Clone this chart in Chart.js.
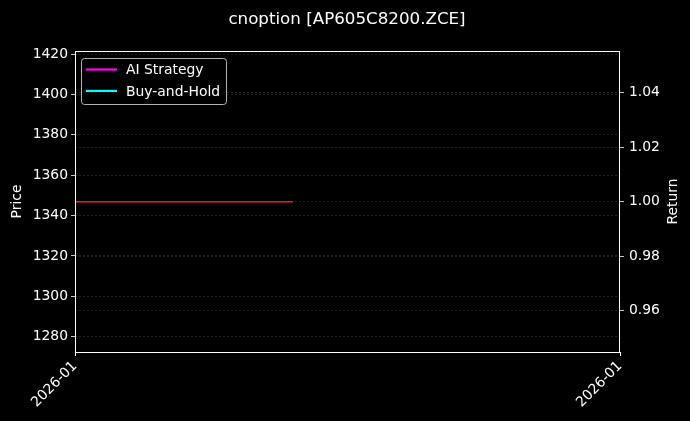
<!DOCTYPE html>
<html lang="en">
<head>
<meta charset="utf-8">
<script src="https://cdn.jsdelivr.net/npm/chart.js@4/dist/chart.umd.min.js"></script>
<style>
  html, body { margin: 0; padding: 0; background: #000; }
  #wrap { width: 690px; height: 421px; }
</style>
</head>
<body>
<div id="wrap"><canvas id="chart" width="690" height="421"></canvas></div>
<script>
// chart values
var titleText = 'cnoption [AP605C8200.ZCE]';
var xTickPos = [0, 1];
var xTickLabels = ['2026-01', '2026-01'];
var priceTicks = [1280, 1300, 1320, 1340, 1360, 1380, 1400, 1420];
var returnTicks = [0.96, 0.98, 1.00, 1.02, 1.04];
var aiStrategy = [];
var buyAndHold = [];
var refLineX = [0, 0.4];
var refLineY = [1.0, 1.0];

var FONT = 'DejaVu Sans';
var FS = 13.9;
var gridColor = 'rgba(100,100,100,0.45)';

function pts(xs, ys) {
  var out = [];
  for (var i = 0; i < xs.length; i++) out.push({x: xs[i], y: ys[i]});
  return out;
}

// title, axis titles, frame and in-plot legend
var decor = {
  id: 'decor',
  afterDraw: function(chart) {
    var ctx = chart.ctx, a = chart.chartArea;
    ctx.save();
    ctx.fillStyle = '#fff';
    ctx.font = '16.7px "' + FONT + '"';
    ctx.textAlign = 'center';
    ctx.textBaseline = 'alphabetic';
    ctx.fillText(titleText, 347, 24);

    ctx.font = FS + 'px "' + FONT + '"';
    ctx.textBaseline = 'middle';
    var cy = (a.top + a.bottom) / 2;
    ctx.save(); ctx.translate(17, cy); ctx.rotate(-Math.PI / 2); ctx.fillText('Price', 0, 0); ctx.restore();
    ctx.save(); ctx.translate(673, cy); ctx.rotate(-Math.PI / 2); ctx.fillText('Return', 0, 0); ctx.restore();

    // frame
    ctx.strokeStyle = '#fff';
    ctx.lineWidth = 1;
    ctx.strokeRect(Math.round(a.left) + 0.5, Math.round(a.top) + 0.5, Math.round(a.right - a.left) - 1, Math.round(a.bottom - a.top));

    // legend
    var items = chart.data.datasets.filter(function(d) { return d.inLegend; });
    var bx = 81, by = 58, bw = 145, bh = 46;
    ctx.fillStyle = 'rgba(0,0,0,0.8)';
    ctx.strokeStyle = 'rgba(210,210,210,0.85)';
    ctx.lineWidth = 1;
    ctx.beginPath();
    ctx.roundRect(bx + 0.5, by + 0.5, bw, bh, 3);
    ctx.fill(); ctx.stroke();
    ctx.textAlign = 'left';
    items.forEach(function(d, i) {
      var y = 69.5 + i * 21.4;
      ctx.strokeStyle = d.borderColor;
      ctx.lineWidth = 2.2;
      ctx.beginPath(); ctx.moveTo(86, y); ctx.lineTo(117, y); ctx.stroke();
      ctx.fillStyle = '#fff';
      ctx.fillText(d.label, 126, y + 1);
    });
    ctx.restore();
  }
};

var chart = new Chart(document.getElementById('chart').getContext('2d'), {
  type: 'line',
  data: {
    datasets: [
      { label: 'AI Strategy', data: aiStrategy, borderColor: '#ff00ff', borderWidth: 2, pointRadius: 0, yAxisID: 'y1', inLegend: true },
      { label: 'Buy-and-Hold', data: buyAndHold, borderColor: '#00ffff', borderWidth: 2, pointRadius: 0, yAxisID: 'y1', inLegend: true },
      { label: 'ref', data: pts(refLineX, refLineY), borderColor: '#ff1a1a', borderWidth: 1.5, pointRadius: 0, yAxisID: 'y1' }
    ]
  },
  options: {
    responsive: false,
    animation: false,
    layout: { padding: { top: 51, left: 0, right: 0, bottom: 0 } },
    plugins: { legend: { display: false }, title: { display: false }, tooltip: { enabled: false } },
    scales: {
      x: {
        type: 'linear', min: 0, max: 1,
        afterBuildTicks: function(s) { s.ticks = xTickPos.map(function(v) { return {value: v}; }); },
        afterFit: function(s) { s.height = 69; },
        grid: { drawOnChartArea: false, drawTicks: true, tickLength: 4, tickColor: '#fff', color: '#fff' },
        border: { display: false },
        ticks: {
          color: '#fff', font: { family: FONT, size: FS }, padding: 2,
          maxRotation: 45, minRotation: 45, autoSkip: false,
          callback: function(v, i) { return xTickLabels[i]; }
        }
      },
      y: {
        position: 'left', min: 1272.4, max: 1421.5,
        afterBuildTicks: function(s) { s.ticks = priceTicks.map(function(v) { return {value: v}; }); },
        afterFit: function(s) { s.width = 75; },
        grid: { color: gridColor, lineWidth: 0.8, tickLength: 4, tickColor: '#fff', tickBorderDash: [] },
        border: { display: false, dash: [2, 2] },
        ticks: { color: '#fff', font: { family: FONT, size: FS }, padding: 3, autoSkip: false,
          callback: function(v) { return String(v); } }
      },
      y1: {
        position: 'right', min: 0.9448, max: 1.0553,
        afterBuildTicks: function(s) { s.ticks = returnTicks.map(function(v) { return {value: v}; }); },
        afterFit: function(s) { s.width = 70; },
        grid: { color: gridColor, lineWidth: 0.8, tickLength: 4, tickColor: '#fff', tickBorderDash: [] },
        border: { display: false, dash: [2, 2] },
        ticks: { color: '#fff', font: { family: FONT, size: FS }, padding: 5, autoSkip: false,
          callback: function(v) { return Number(v).toFixed(2); } }
      }
    }
  },
  plugins: [decor]
});
</script>
</body>
</html>
